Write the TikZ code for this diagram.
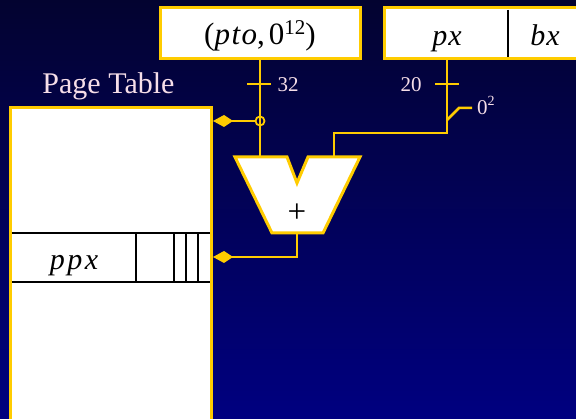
\documentclass[tikz,border=0pt]{standalone}
\usepackage{fontspec}
\setmainfont{Liberation Serif}
\usetikzlibrary{arrows.meta}
\definecolor{gold}{RGB}{255,204,0}
\definecolor{lbl}{RGB}{246,222,232}
\definecolor{bgtop}{RGB}{3,3,48}
\definecolor{bgbot}{RGB}{0,0,128}
\begin{document}
\begin{tikzpicture}[x=1pt,y=-1pt,
  wire/.style={draw=gold,line width=2.5pt},
  boxy/.style={draw=gold,line width=3pt,fill=white},
  kitetip/.style={-{Kite[length=20pt,width=12pt,inset=9pt]}},
  big/.style={font=\fontsize{30}{36}\selectfont},
  small/.style={font=\fontsize{21}{25}\selectfont,text=lbl},
  txt/.style={inner sep=0pt,anchor=base}]
\shade[top color=bgtop,bottom color=bgbot] (0,0) rectangle (576,419);
\useasboundingbox (0,0) rectangle (576,419);

% boxes
\node[boxy,minimum width=200pt,minimum height=51pt,inner sep=0pt] (pto) at (260,33.5) {};
\node[txt,font=\fontsize{31}{36}\selectfont] (ptotext) at (260,45) {(\textit{p\kern1.5pt t\kern1.5pt o},\kern4pt0\raisebox{10pt}{\fontsize{21}{25}\selectfont 12})};
\node[boxy,minimum width=216pt,minimum height=51pt,inner sep=0pt] (pxbx) at (492,33.5) {};
\coordinate (divt) at (508,10);
\coordinate (divb) at (508,57.5);
\draw[black,line width=2pt] (divt) -- (divb);
\node[txt,big] (pxt) at (447,46) {\textit{p\kern1pt x}};
\node[txt,big] (bxt) at (545,46) {\textit{b\kern1pt x}};

% page table
\node[txt,big,text=lbl] (pttitle) at (108.5,94) {Page Table};
\node[boxy,minimum width=201pt,minimum height=330pt,inner sep=0pt] (pt) at (110.5,273) {};
\coordinate (r1l) at (11.5,233); \coordinate (r1r) at (209.5,233);
\coordinate (r2l) at (11.5,282); \coordinate (r2r) at (209.5,282);
\draw[black,line width=2.2pt] (r1l) -- (r1r) (r2l) -- (r2r);
\foreach \xx/\ww in {136/2.2pt,174/1.6pt,186/1.6pt,198/1.6pt}
  \draw[black,line width=\ww] (\xx,233) -- (\xx,282);
\node[txt,big] (ppx) at (74,270) {\textit{p\kern2.5pt p\kern2.5pt x}};

% adder
\draw[boxy] (235,157) -- (287,157) -- (297,183) -- (308,157) -- (360,157) -- (323,233) -- (272,233) -- cycle;
\coordinate (aluA) at (260,157);
\coordinate (aluB) at (334,157);
\coordinate (aluO) at (297,233);
\node[txt,font=\fontsize{33}{38}\selectfont] (plus) at (297,223) {+};

% left input from pto
\draw[wire] (pto.south) -- (aluA);
\coordinate (t1l) at (247,84); \coordinate (t1r) at (271,84);
\draw[wire] (t1l) -- (t1r);
\node[txt,small] (l32) at (288,92) {32};
\node[circle,draw=gold,line width=1.8pt,inner sep=0pt,minimum size=9pt] (junc) at (260,121) {};
\coordinate (ptin1) at (213,121);
\draw[wire,kitetip] (junc.west) -- (ptin1);

% right input from px
\coordinate (pxout) at (447,58);
\coordinate (bend) at (447,133);
\draw[wire] (pxout) -- (bend) -| (aluB);
\coordinate (t2l) at (435,84); \coordinate (t2r) at (459,84);
\draw[wire] (t2l) -- (t2r);
\node[txt,small] (l20) at (411,92) {20};
\coordinate (br0) at (447,120);
\coordinate (br1) at (459,108);
\coordinate (br2) at (472,108);
\draw[wire] (br0) -- (br1) -- (br2);
\node[txt,small,anchor=base west] (l02) at (477,115) {0\raisebox{9pt}{\fontsize{14}{16}\selectfont 2}};

% output
\coordinate (outc) at (297,257);
\coordinate (ptin2) at (213,257);
\draw[wire,kitetip] (aluO) -- (outc) -- (ptin2);
\end{tikzpicture}
\end{document}
